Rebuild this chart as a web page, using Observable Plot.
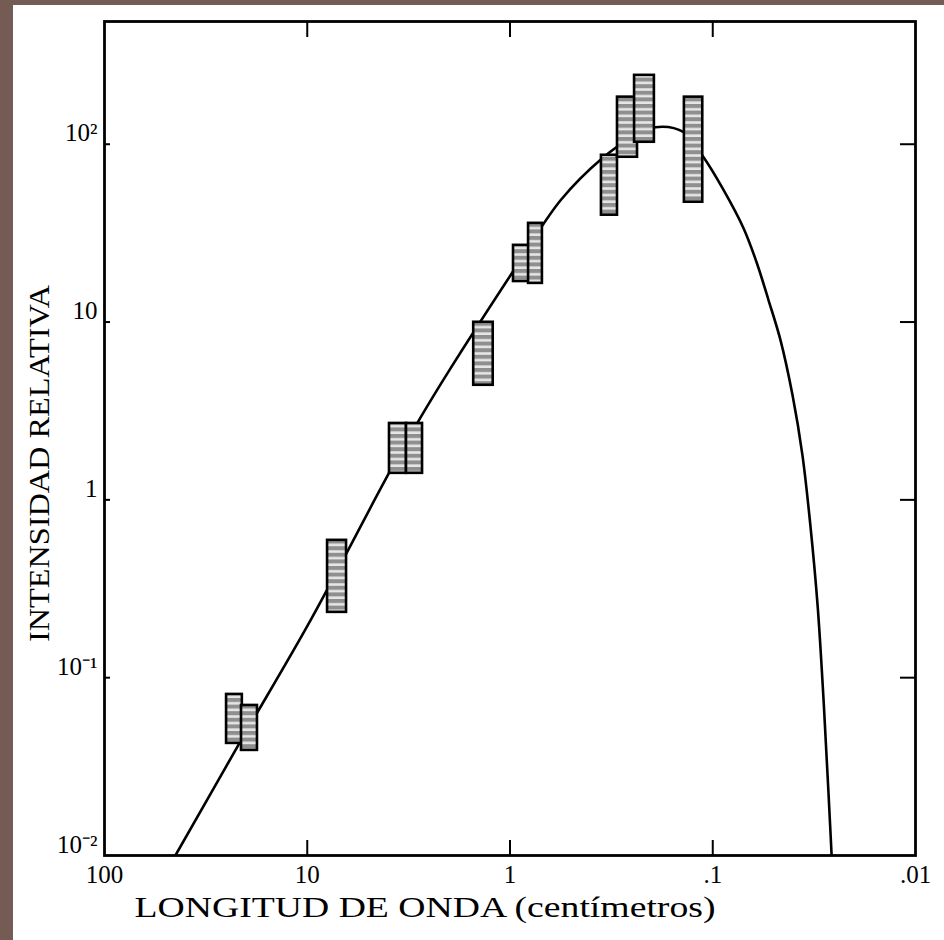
<!DOCTYPE html>
<html><head><meta charset="utf-8">
<script src="https://cdn.jsdelivr.net/npm/d3@7"></script>
<script src="https://cdn.jsdelivr.net/npm/@observablehq/plot@0.6"></script>
<style>
html,body{margin:0;padding:0;background:#745c55;width:944px;height:940px;overflow:hidden}
#chart{position:absolute;left:13px;top:5px;width:931px;height:935px;background:#fff}
</style></head><body><div id="chart"></div>
<script>
// Curve (wavelength in cm, relative intensity)
const curveLambda = [50, 44.7, 21.35, 9.64, 3.93, 2.76, 1.965, 0.972, 0.563, 0.346, 0.255, 0.192, 0.139, 0.111, 0.0895, 0.0705, 0.0608, 0.0531, 0.0463, 0.0404, 0.0361, 0.0330, 0.0304, 0.0284, 0.0269, 0.0257];
const curveIntensity = [0.008, 0.01, 0.0438, 0.210, 1.43, 2.91, 5.49, 19.05, 48.4, 84.5, 108, 124.6, 116.8, 84.5, 56.6, 33.7, 21.7, 13.3, 7.89, 3.87, 1.78, 0.719, 0.255, 0.0745, 0.0232, 0.0082];

// Measurement boxes (wavelength range, intensity range)
const boxLamLong  = [25.0, 21.1, 7.94, 3.93, 3.24, 1.51, 0.961, 0.81, 0.354, 0.295, 0.243, 0.138];
const boxLamShort = [20.9, 17.6, 6.40, 3.24, 2.70, 1.21, 0.792, 0.692, 0.295, 0.235, 0.194, 0.112];
const boxILow  = [0.0427, 0.039, 0.233, 1.41, 1.41, 4.41, 16.9, 16.5, 39.9, 84.5, 102.6, 47.2];
const boxIHigh = [0.0805, 0.0698, 0.592, 2.69, 2.69, 9.97, 27.0, 35.9, 86.7, 184, 244, 184];

// Ticks
const xTickValues = [100, 10, 1, 0.1, 0.01];
const xTickLabels = ["100", "10", "1", ".1", ".01"];
const xInnerTicks = [10, 1, 0.1];
const yTickValues = [100, 10, 1, 0.1, 0.01];
const yTickLabels = ["10\u00B2", "10", "1", "10\u207B\u00B9", "10\u207B\u00B2"];
const yInnerTicks = [100, 10, 1, 0.1];

const xTitle = "LONGITUD DE ONDA (centímetros)";
const yTitle = "INTENSIDAD RELATIVA";

const curve = curveLambda.map((l, i) => ({lambda: l, intensity: curveIntensity[i]}));
const boxes = boxLamLong.map((l, i) => ({l1: l, l2: boxLamShort[i], i1: boxILow[i], i2: boxIHigh[i]}));
const xTicks = xTickValues.map((v, i) => ({v, t: xTickLabels[i]}));
const yTicks = yTickValues.map((v, i) => ({v, t: yTickLabels[i]}));

const W = 931, H = 935, ML = 91, MT = 16, MR = 29, MB = 85;
const PW = W - ML - MR, PH = H - MT - MB;
const serif = "'Liberation Serif', 'Times New Roman', serif";

const svg = Plot.plot({
  width: W, height: H,
  marginLeft: ML, marginTop: MT, marginRight: MR, marginBottom: MB,
  style: {background: "white", fontFamily: serif, color: "black"},
  x: {type: "log", domain: [100, 0.01], axis: null},
  y: {type: "log", domain: [0.01, 490], axis: null},
  marks: [
    Plot.line(curve, {x: "lambda", y: "intensity", curve: "catmull-rom", stroke: "black", strokeWidth: 2.6, clip: true}),
    Plot.rect(boxes, {x1: "l1", x2: "l2", y1: "i1", y2: "i2", fill: "url(#stripes)", stroke: "black", strokeWidth: 2.6}),
    Plot.frame({stroke: "black", strokeWidth: 2.8}),
    // inward ticks
    Plot.tickX(xInnerTicks, {x: d => d, insetTop: PH - 15, stroke: "black", strokeWidth: 2}),
    Plot.tickX(xInnerTicks, {x: d => d, insetBottom: PH - 16, stroke: "black", strokeWidth: 2}),
    Plot.tickY(yInnerTicks, {y: d => d, insetLeft: PW - 15, stroke: "black", strokeWidth: 2}),
    Plot.tickY(yInnerTicks, {y: d => d, insetRight: PW - 6, stroke: "black", strokeWidth: 2}),
    // tick labels
    Plot.text(xTicks, {x: "v", text: "t", frameAnchor: "bottom", lineAnchor: "top", dy: 10, fontSize: 25, fill: "black", fontFamily: serif}),
    Plot.text(yTicks, {y: "v", text: "t", frameAnchor: "left", textAnchor: "end", dx: -7, dy: -11, fontSize: 25, fill: "black", fontFamily: serif}),
    // titles
    Plot.text([xTitle], {text: d => d, frameAnchor: "bottom", textAnchor: "middle", lineAnchor: "top", dx: -85, dy: 41, fontSize: 29, fill: "black", fontFamily: serif}),
    Plot.text([yTitle], {text: d => d, frameAnchor: "left", textAnchor: "middle", lineAnchor: "middle", rotate: -90, dx: -65, dy: 25, fontSize: 29, fill: "black", fontFamily: serif})
  ]
});

const defs = d3.select(svg).insert("defs", ":first-child");
const pat = defs.append("pattern").attr("id", "stripes").attr("patternUnits", "userSpaceOnUse")
  .attr("width", 8).attr("height", 6.6);
pat.append("rect").attr("width", 8).attr("height", 6.6).attr("fill", "#e6e6e6");
pat.append("rect").attr("width", 8).attr("height", 4).attr("fill", "#8f8f8f");

d3.select(svg).selectAll("text").each(function() {
  const t = this.textContent;
  if (t === xTitle) d3.select(this).attr("textLength", 581).attr("lengthAdjust", "spacingAndGlyphs");
  if (t === yTitle) d3.select(this).attr("textLength", 357).attr("lengthAdjust", "spacingAndGlyphs");
});

document.getElementById("chart").appendChild(svg);
</script>
</body></html>
